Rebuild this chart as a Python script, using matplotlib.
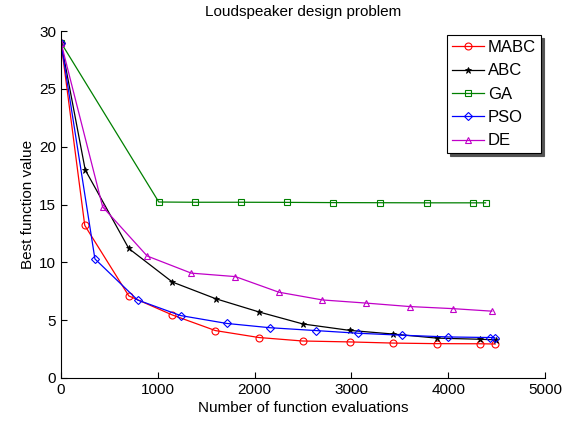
import matplotlib
matplotlib.use("Agg")
import matplotlib.pyplot as plt

# evaluations / best function values
mabc_x = [0, 245, 700, 1150, 1595, 2045, 2495, 2980, 3430, 3880, 4330, 4485]
mabc_y = [29.0, 13.2, 7.1, 5.45, 4.1, 3.5, 3.2, 3.12, 3.02, 2.97, 2.96, 2.94]

abc_x = [0, 250, 700, 1150, 1600, 2050, 2500, 2980, 3430, 3880, 4330, 4490]
abc_y = [29.0, 18.0, 11.2, 8.3, 6.85, 5.7, 4.67, 4.12, 3.8, 3.45, 3.35, 3.3]

ga_x = [0, 1010, 1380, 1855, 2335, 2810, 3300, 3780, 4255, 4385]
ga_y = [29.0, 15.22, 15.2, 15.2, 15.19, 15.17, 15.16, 15.15, 15.15, 15.15]

pso_x = [0, 350, 790, 1235, 1710, 2155, 2635, 3070, 3520, 4000, 4430, 4480]
pso_y = [29.0, 10.3, 6.75, 5.4, 4.72, 4.35, 4.1, 3.87, 3.7, 3.55, 3.5, 3.48]

de_x = [0, 430, 890, 1345, 1800, 2250, 2700, 3150, 3600, 4045, 4450]
de_y = [29.0, 14.8, 10.55, 9.07, 8.77, 7.42, 6.75, 6.48, 6.18, 6.0, 5.78]

plt.rcParams['font.family'] = ['Liberation Sans', 'DejaVu Sans']
plt.rcParams['font.size'] = 11

fig = plt.figure(figsize=(5.79, 4.23), dpi=100)
ax = fig.add_axes([0.1054, 0.1064, 0.836, 0.820])

lw = 0.9
ax.plot(mabc_x, mabc_y, '-o', color='red', lw=lw, ms=5, mfc='none', mew=0.8, label='MABC')
ax.plot(abc_x, abc_y, '-*', color='black', lw=lw, ms=5, mew=0.6, label='ABC')
ax.plot(ga_x, ga_y, '-s', color='#008000', lw=lw, ms=4.5, mfc='none', mew=0.8, label='GA')
ax.plot(pso_x, pso_y, '-D', color='blue', lw=lw, ms=4, mfc='none', mew=0.8, label='PSO')
ax.plot(de_x, de_y, '-^', color='#c000c8', lw=lw, ms=5, mfc='none', mew=0.8, label='DE')

ax.set_xlim(0, 5000)
ax.set_ylim(0, 30)
ax.set_xticks(range(0, 5001, 1000))
ax.set_yticks(range(0, 31, 5))
ax.tick_params(direction='in', length=4, width=0.8, labelsize=11)
ax.spines['top'].set_visible(False)
ax.spines['right'].set_visible(False)

ax.set_title("Loudspeaker design problem", fontsize=11, pad=11)
ax.set_xlabel("Number of function evaluations", labelpad=3)
ax.set_ylabel("Best function value", labelpad=3)

leg = ax.legend(loc='upper right', bbox_to_anchor=(0.9917, 0.9885), fancybox=False,
                shadow={'facecolor': '0.25', 'alpha': 0.9}, framealpha=1,
                edgecolor='black', handlelength=1.9, borderpad=0.3,
                labelspacing=0.5, handletextpad=0.25, borderaxespad=0,
                fontsize=12)
leg.get_frame().set_linewidth(0.8)

fig.savefig("out.png", dpi=100)
